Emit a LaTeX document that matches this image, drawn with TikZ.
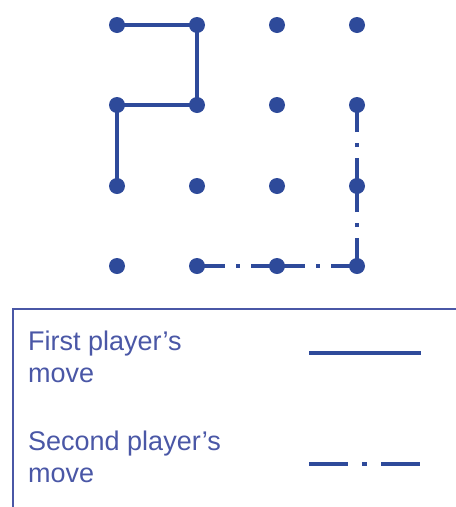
\documentclass[tikz,border=0pt]{standalone}
\usepackage{fontspec}
\setmainfont{Liberation Sans}
\definecolor{dotblue}{HTML}{2E4A9A}
\definecolor{txtblue}{HTML}{4A57A6}
\begin{document}
\begin{tikzpicture}[x=1pt,y=-1pt,
  gdot/.style={circle,fill=dotblue,inner sep=0pt,minimum size=16pt},
  firstmove/.style={draw=dotblue,line width=3.5pt},
  secondmove/.style={draw=dotblue,line width=3.5pt,dash pattern=on 54pt off 11pt on 4pt off 11pt,dash phase=26pt},
  legtext/.style={text=txtblue,font=\fontsize{27}{32}\selectfont,align=left,inner sep=0pt,anchor=base west}]
\useasboundingbox (0,0) rectangle (456,507);
\clip (0,0) rectangle (456,507);
% grid coordinates
\foreach \c/\x in {0/117,1/197,2/277,3/357}{
  \foreach \r/\y in {0/25,1/105,2/186,3/266}{
    \coordinate (p\c\r) at (\x,\y);
  }
}
% moves
\draw[firstmove] (p00) -- (p10) -- (p11) -- (p01) -- (p02);
\draw[secondmove] (p13) -- (p23) -- (p33) -- (p32) -- (p31);
% dots
\foreach \c in {0,1,2,3}{
  \foreach \r in {0,1,2,3}{
    \node[gdot] (d\c\r) at (p\c\r) {};
  }
}
% legend box
\node[draw=txtblue,line width=1.8pt,inner sep=0pt,minimum width=480pt,minimum height=220pt,anchor=north west] (legend) at (12,308) {};
\node[legtext] (t1) at (28,382) {First player’s\\move};
\node[legtext] (t2) at (28,482) {Second player’s\\move};
\coordinate (l1a) at (309,353);
\coordinate (l1b) at (421,353);
\coordinate (l2a) at (309,464);
\coordinate (l2b) at (420,464);
\draw[firstmove,line width=4pt] (l1a) -- (l1b);
\draw[draw=dotblue,line width=4pt,dash pattern=on 39pt off 14pt on 5pt off 14pt] (l2a) -- (l2b);
\end{tikzpicture}
\end{document}
